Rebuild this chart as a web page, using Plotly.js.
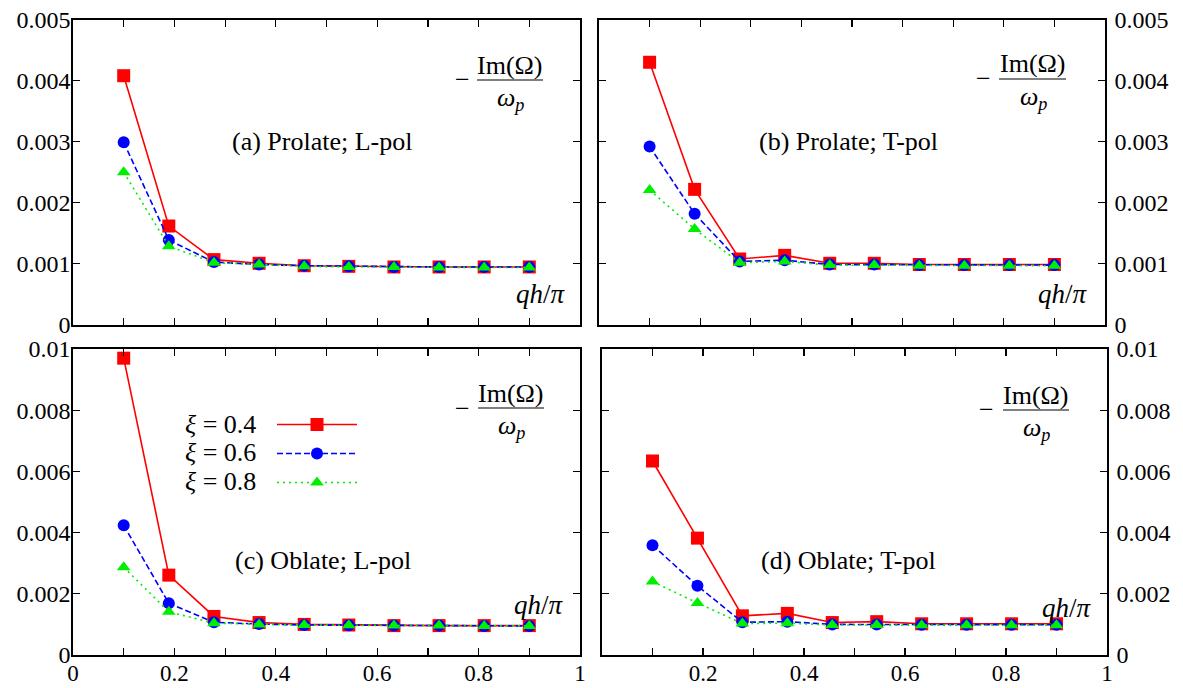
<!DOCTYPE html>
<html>
<head>
<meta charset="utf-8">
<script src="https://cdn.plot.ly/plotly-3.0.1.min.js"></script>
<style>
  html, body { margin: 0; padding: 0; background: #fff; }
  #chart { width: 1183px; height: 688px; }
</style>
</head>
<body>
<div id="chart"></div>
<script>
// Wave-vector grid qh/pi shared by every panel
const qh = [0.1, 0.189, 0.278, 0.367, 0.456, 0.544, 0.633, 0.722, 0.811, 0.9];

// Damping rate -Im(Omega)/omega_p, one array per aspect ratio xi
// (a) Prolate, L-pol
const prolateL_04 = [0.00408, 0.00162, 0.00107, 0.00101, 0.00097, 0.00096, 0.00095, 0.00095, 0.00095, 0.00095];
const prolateL_06 = [0.00299, 0.00139, 0.00103, 0.00099, 0.00097, 0.00096, 0.00095, 0.00095, 0.00095, 0.00095];
const prolateL_08 = [0.00250, 0.00129, 0.00102, 0.00099, 0.00096, 0.00095, 0.00095, 0.00094, 0.00094, 0.00094];
// (b) Prolate, T-pol
const prolateT_04 = [0.00430, 0.00222, 0.00108, 0.00114, 0.00101, 0.00101, 0.00099, 0.00099, 0.00099, 0.00099];
const prolateT_06 = [0.00292, 0.00182, 0.00104, 0.00106, 0.00099, 0.00099, 0.00098, 0.00098, 0.00098, 0.00098];
const prolateT_08 = [0.00221, 0.00157, 0.00102, 0.00104, 0.00098, 0.00098, 0.00097, 0.00097, 0.00097, 0.00097];
// (c) Oblate, L-pol
const oblateL_04 = [0.00970, 0.00261, 0.00126, 0.00106, 0.00100, 0.00098, 0.00096, 0.00096, 0.00096, 0.00096];
const oblateL_06 = [0.00424, 0.00169, 0.00107, 0.00101, 0.00098, 0.00097, 0.00096, 0.00096, 0.00095, 0.00095];
const oblateL_08 = [0.00287, 0.00141, 0.00104, 0.00100, 0.00098, 0.00097, 0.00096, 0.00096, 0.00095, 0.00095];
// (d) Oblate, T-pol
const oblateT_04 = [0.00634, 0.00382, 0.00128, 0.00136, 0.00106, 0.00109, 0.00102, 0.00102, 0.00102, 0.00102];
const oblateT_06 = [0.00359, 0.00226, 0.00107, 0.00109, 0.00100, 0.00100, 0.00099, 0.00099, 0.00099, 0.00099];
const oblateT_08 = [0.00240, 0.00170, 0.00103, 0.00104, 0.00098, 0.00098, 0.00097, 0.00097, 0.00097, 0.00097];

const seriesNames = ['<i>ξ</i> = 0.4', '<i>ξ</i> = 0.6', '<i>ξ</i> = 0.8'];
const panelLabels = ['(a) Prolate; L-pol', '(b) Prolate; T-pol', '(c) Oblate; L-pol', '(d) Oblate; T-pol'];

// labelled x ticks every 0.2 (minor marks fill in every 0.1)
const xTickVals = [0, 0.2, 0.4, 0.6, 0.8, 1];
const xTickTextLeft = ['0', '0.2', '0.4', '0.6', '0.8', '1'];
const xTickValsRight = [0.2, 0.4, 0.6, 0.8, 1];
const xTickTextRight = ['0.2', '0.4', '0.6', '0.8', '1'];

const W = 1183, H = 688;
const FONT = 'Liberation Serif, Times New Roman, serif';

const styles = [
  { color: '#ff0000', dash: 'solid', symbol: 'square', size: 13 },
  { color: '#0000ff', dash: '6px,3px', symbol: 'circle', size: 12 },
  { color: '#00ee00', dash: '2px,4px', symbol: 'triangle-up', size: 12 }
];

const panels = [
  { xa: 'x', ya: 'y', data: [prolateL_04, prolateL_06, prolateL_08] },
  { xa: 'x2', ya: 'y2', data: [prolateT_04, prolateT_06, prolateT_08] },
  { xa: 'x3', ya: 'y3', data: [oblateL_04, oblateL_06, oblateL_08] },
  { xa: 'x4', ya: 'y4', data: [oblateT_04, oblateT_06, oblateT_08] }
];

const traces = [];
panels.forEach((p, pi) => {
  p.data.forEach((vals, si) => {
    const s = styles[si];
    traces.push({
      x: qh, y: vals, xaxis: p.xa, yaxis: p.ya,
      type: 'scatter', mode: 'lines+markers',
      name: pi === 2 ? ' ' : seriesNames[si],
      legendgroup: 'g' + si,
      showlegend: pi === 2,
      line: { color: s.color, width: 1.6, dash: s.dash },
      marker: { color: s.color, symbol: s.symbol, size: s.size, line: { width: 0 } },
      cliponaxis: false
    });
  });
});

function px(x) { return x / W; }
function py(y) { return 1 - y / H; }

function axisBase(extra) {
  return Object.assign({
    showline: true, linecolor: '#000', linewidth: 1.6, mirror: 'ticks',
    ticks: 'inside', ticklen: 7, tickwidth: 1.2, tickcolor: '#000',
    showgrid: false, zeroline: false, fixedrange: true,
    tickfont: { family: FONT, size: 24, color: '#000' }
  }, extra);
}

const xMinor = { dtick: 0.1, tick0: 0, ticks: 'inside', ticklen: 7, tickwidth: 1.2, tickcolor: '#000', showgrid: false };
const xFont = { family: FONT, size: 23, color: '#000' };

const domX = { left: [px(73), px(580)], rightTop: [px(599), px(1105)], rightBot: [px(602), px(1107)] };
const domY = { top: [py(325), py(19.5)], bot: [py(655), py(349)] };

const layout = {
  width: W, height: H,
  margin: { l: 0, r: 0, t: 0, b: 0 },
  paper_bgcolor: '#fff', plot_bgcolor: 'rgba(0,0,0,0)',
  showlegend: true,
  legend: {
    x: px(272), y: py(405), xanchor: 'left', yanchor: 'top',
    bgcolor: 'rgba(0,0,0,0)', borderwidth: 0,
    font: { family: FONT, size: 20, color: '#000' },
    itemwidth: 80, tracegroupgap: 0, traceorder: 'normal'
  },
  xaxis: axisBase({ domain: domX.left, anchor: 'y', range: [0, 1], tickvals: xTickVals, showticklabels: false, minor: xMinor }),
  yaxis: axisBase({ domain: domY.top, anchor: 'x', range: [0, 0.005], dtick: 0.001, tick0: 0, ticklabelstandoff: -4 }),
  xaxis2: axisBase({ domain: domX.rightTop, anchor: 'y2', range: [0, 1], tickvals: xTickVals, showticklabels: false, minor: xMinor }),
  yaxis2: axisBase({ domain: domY.top, anchor: 'x2', side: 'right', range: [0, 0.005], dtick: 0.001, tick0: 0, ticklabelstandoff: 3 }),
  xaxis3: axisBase({ domain: domX.left, anchor: 'y3', range: [0, 1], tickvals: xTickVals, ticktext: xTickTextLeft, minor: xMinor, tickfont: xFont, ticklabelstandoff: -3 }),
  yaxis3: axisBase({ domain: domY.bot, anchor: 'x3', range: [0, 0.01], dtick: 0.002, tick0: 0, ticklabelstandoff: -4 }),
  xaxis4: axisBase({ domain: domX.rightBot, anchor: 'y4', range: [0, 1], tickvals: xTickValsRight, ticktext: xTickTextRight, minor: xMinor, tickfont: xFont, ticklabelstandoff: -3 }),
  yaxis4: axisBase({ domain: domY.bot, anchor: 'x4', side: 'right', range: [0, 0.01], dtick: 0.002, tick0: 0, ticklabelstandoff: 3 }),
  annotations: [],
  shapes: []
};

function note(text, x, y, size, anchor) {
  layout.annotations.push({
    text: text, x: px(x), y: py(y), xref: 'paper', yref: 'paper',
    showarrow: false, xanchor: anchor || 'center', yanchor: 'middle',
    font: { family: FONT, size: size, color: '#000' }
  });
}

// Panel captions
note(panelLabels[0], 322, 141, 26);
note(panelLabels[1], 848, 141, 26);
note(panelLabels[2], 323, 560, 26);
note(panelLabels[3], 848, 560, 26);

// -Im(Omega)/omega_p fraction in each panel
const fracs = [
  { mx: 462, cx: 510, b0: 477, b1: 543, by: 80 },
  { mx: 983, cx: 1033, b0: 999, b1: 1066, by: 79 },
  { mx: 462, cx: 511, b0: 478, b1: 544, by: 408 },
  { mx: 986, cx: 1036, b0: 1003, b1: 1069, by: 410 }
];
fracs.forEach(f => {
  note('−', f.mx, f.by, 26);
  note('Im(Ω)', f.cx, f.by - 15, 26);
  note('<i>ω</i><sub><i>p</i></sub>', f.cx, f.by + 19, 26);
  layout.shapes.push({
    type: 'line', xref: 'paper', yref: 'paper',
    x0: px(f.b0), x1: px(f.b1), y0: py(f.by), y1: py(f.by),
    line: { color: '#000', width: 1.2 }
  });
});

// x-axis label inside each panel
note('<i>qh</i>/<i>π</i>', 541, 294, 27);
note('<i>qh</i>/<i>π</i>', 1063, 294, 27);
note('<i>qh</i>/<i>π</i>', 539, 605, 27);
note('<i>qh</i>/<i>π</i>', 1067, 608, 27);

// Key labels, placed left of the legend samples
note(seriesNames[0], 258, 424, 26, 'right');
note(seriesNames[1], 258, 453, 26, 'right');
note(seriesNames[2], 258, 481, 26, 'right');

Plotly.newPlot('chart', traces, layout, { displayModeBar: false, staticPlot: true });
</script>
</body>
</html>
